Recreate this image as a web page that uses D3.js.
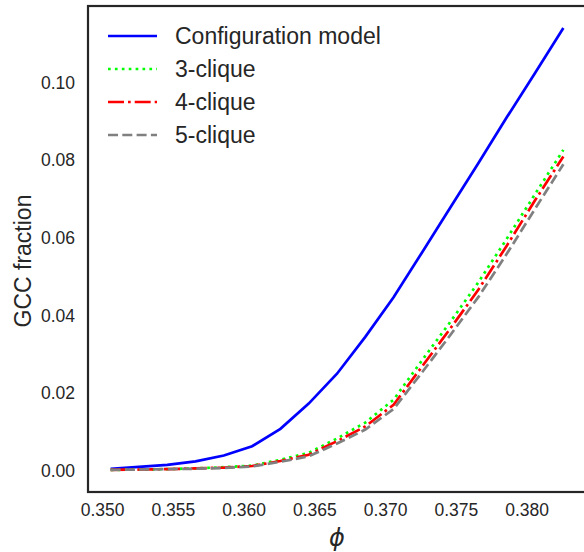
<!DOCTYPE html>
<html>
<head>
<meta charset="utf-8">
<script src="https://cdn.jsdelivr.net/npm/d3@7"></script>
<style>
  body { margin: 0; background: #fff; }
  text { font-family: "Liberation Sans", Arial, sans-serif; fill: #262626; }
</style>
</head>
<body>
<svg id="root"></svg>
<script>
var width = 584,
    height = 552,
    margin = {left: 88, top: 6, right: -2, bottom: 60};

// phi values
var phi = [0.3506, 0.3526, 0.3546, 0.3566, 0.3586, 0.3606, 0.3626, 0.3646, 0.3666,
           0.3686, 0.3706, 0.3726, 0.3746, 0.3766, 0.3786, 0.3806, 0.3826];
// GCC fraction per model
var configModel = [0.0005, 0.0010, 0.0015, 0.0024, 0.0039, 0.0063, 0.0108, 0.0173, 0.0250,
                   0.0345, 0.0447, 0.0562, 0.0678, 0.0793, 0.0911, 0.1025, 0.1141];
var clique3 = [0.0002, 0.0003, 0.0004, 0.0006, 0.0009, 0.0013, 0.0028, 0.0046, 0.0083,
               0.0124, 0.0183, 0.0284, 0.0383, 0.0486, 0.0598, 0.0713, 0.0827];
var clique4 = [0.0002, 0.0003, 0.0004, 0.0006, 0.0008, 0.0012, 0.0025, 0.0041, 0.0076,
               0.0114, 0.0170, 0.0268, 0.0366, 0.0467, 0.0580, 0.0697, 0.0810];
var clique5 = [0.0002, 0.0003, 0.0004, 0.0005, 0.0007, 0.0011, 0.0023, 0.0037, 0.0070,
               0.0106, 0.0159, 0.0253, 0.0349, 0.0448, 0.0559, 0.0675, 0.0790];

var seriesNames = ['Configuration model', '3-clique', '4-clique', '5-clique'];
var xTicks = [0.350, 0.355, 0.360, 0.365, 0.370, 0.375, 0.380];
var yTicks = [0.00, 0.02, 0.04, 0.06, 0.08, 0.10];

var lw = 2.7;
var styles = [
  {color: '#0000ff', dash: null},
  {color: '#00ff00', dash: '2.7,4.2'},
  {color: '#ff0000', dash: '16,4,2.7,4'},
  {color: '#808080', dash: '10,4.3'}
];
var series = [configModel, clique3, clique4, clique5];

var root = d3.select('#root')
    .attr('width', width)
    .attr('height', height);

// matplotlib-like 5% margins
function padded(lo, hi) {
  var s = hi - lo;
  return [lo - 0.05 * s, hi + 0.05 * s];
}
var allY = d3.merge(series);

var x = d3.scaleLinear()
    .domain(padded(d3.min(phi), d3.max(phi)))
    .range([margin.left, width - margin.right]);
var y = d3.scaleLinear()
    .domain(padded(d3.min(allY), d3.max(allY)))
    .range([height - margin.bottom, margin.top]);

var line = d3.line()
    .x(function(d) { return x(d[0]); })
    .y(function(d) { return y(d[1]); });

series.forEach(function(vals, i) {
  root.append('path')
    .datum(phi.map(function(p, j) { return [p, vals[j]]; }))
    .attr('d', line)
    .attr('fill', 'none')
    .attr('stroke', styles[i].color)
    .attr('stroke-width', lw)
    .attr('stroke-dasharray', styles[i].dash);
});

// frame
root.append('rect')
  .attr('x', margin.left)
  .attr('y', margin.top)
  .attr('width', width - margin.right - margin.left)
  .attr('height', height - margin.bottom - margin.top)
  .attr('fill', 'none')
  .attr('stroke', '#262626')
  .attr('stroke-width', 2.2);

// axes (labels only, no tick marks)
var xAxis = root.append('g')
  .attr('transform', 'translate(0,' + (height - margin.bottom) + ')')
  .call(d3.axisBottom(x).tickValues(xTicks).tickFormat(d3.format('.3f')).tickSize(0).tickPadding(12));
var yAxis = root.append('g')
  .attr('transform', 'translate(' + margin.left + ',0)')
  .call(d3.axisLeft(y).tickValues(yTicks).tickFormat(d3.format('.2f')).tickSize(0).tickPadding(13));
[xAxis, yAxis].forEach(function(a) {
  a.select('.domain').remove();
  a.selectAll('text')
    .attr('font-size', 17.5)
    .attr('font-family', '"Liberation Sans", Arial, sans-serif')
    .attr('fill', '#262626');
});

root.append('text')
  .attr('transform', 'translate(31,261) rotate(-90)')
  .attr('text-anchor', 'middle')
  .attr('font-size', 23)
  .text('GCC fraction');

root.append('text')
  .attr('x', 337)
  .attr('y', 546)
  .attr('text-anchor', 'middle')
  .attr('font-size', 24)
  .attr('font-style', 'italic')
  .style('font-family', '"DejaVu Sans", sans-serif')
  .text('\u03d5');

// legend
var legend = root.append('g');
seriesNames.forEach(function(name, i) {
  var ly = 36 + i * 33;
  legend.append('line')
    .attr('x1', 108).attr('x2', 157)
    .attr('y1', ly).attr('y2', ly)
    .attr('stroke', styles[i].color)
    .attr('stroke-width', lw)
    .attr('stroke-dasharray', styles[i].dash);
  legend.append('text')
    .attr('x', 175)
    .attr('y', ly + 8)
    .attr('font-size', 23)
    .text(name);
});
</script>
</body>
</html>
